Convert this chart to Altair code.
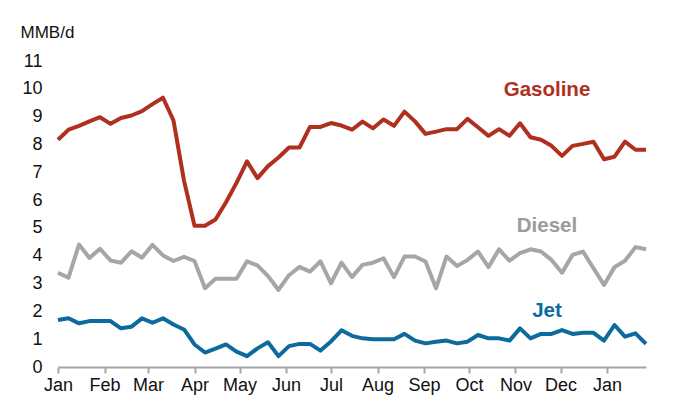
import altair as alt
import pandas as pd

# Weekly product supplied, MMB/d (Jan of year 1 through late Jan of year 2)
week_start = "2020-01-01"
n_weeks = 57

gasoline = [8.17, 8.53, 8.67, 8.83, 8.98, 8.74, 8.95, 9.04, 9.20, 9.45,
            9.68, 8.86, 6.70, 5.08, 5.08, 5.30, 5.92, 6.62, 7.39, 6.79,
            7.22, 7.53, 7.89, 7.89, 8.63, 8.63, 8.77, 8.68, 8.53, 8.82,
            8.58, 8.90, 8.67, 9.18, 8.83, 8.38, 8.46, 8.55, 8.55, 8.92,
            8.62, 8.31, 8.55, 8.31, 8.76, 8.26, 8.17, 7.95, 7.59, 7.95,
            8.02, 8.10, 7.47, 7.56, 8.10, 7.81, 7.81]

diesel = [3.39, 3.21, 4.40, 3.92, 4.25, 3.83, 3.75, 4.16, 3.93, 4.39,
          4.01, 3.81, 3.96, 3.81, 2.83, 3.17, 3.17, 3.17, 3.80, 3.65,
          3.27, 2.77, 3.30, 3.60, 3.43, 3.80, 3.01, 3.75, 3.23, 3.67,
          3.75, 3.91, 3.23, 3.97, 3.97, 3.79, 2.83, 3.97, 3.63, 3.85,
          4.15, 3.59, 4.23, 3.82, 4.09, 4.23, 4.15, 3.85, 3.39, 4.03,
          4.15, 3.55, 2.95, 3.59, 3.82, 4.31, 4.23]

jet = [1.69, 1.75, 1.57, 1.65, 1.65, 1.65, 1.39, 1.45, 1.75, 1.59,
       1.75, 1.53, 1.35, 0.81, 0.52, 0.66, 0.81, 0.55, 0.39, 0.67,
       0.89, 0.39, 0.75, 0.83, 0.83, 0.59, 0.92, 1.32, 1.12, 1.03,
       1.00, 1.00, 1.00, 1.19, 0.95, 0.85, 0.91, 0.95, 0.85, 0.91,
       1.15, 1.03, 1.03, 0.95, 1.39, 1.03, 1.19, 1.19, 1.33, 1.19,
       1.23, 1.23, 0.95, 1.51, 1.09, 1.21, 0.83]

series_names = ["Gasoline", "Diesel", "Jet"]
series_colors = ["#b0301f", "#a6a6a6", "#0c6b9c"]
label_colors = ["#b0301f", "#9c9c9c", "#0c6b9c"]

# Series label annotations (anchor date, value)
label_dates = ["2020-11-22", "2020-11-22", "2020-11-22"]
label_values = [9.75, 4.86, 1.80]

y_ticks = list(range(0, 12))
month_ticks = [alt.DateTime(year=2020 + (m // 12), month=(m % 12) + 1, date=1) for m in range(13)]

dates = pd.date_range(week_start, periods=n_weeks, freq="7D")
rows = []
for name, vals in zip(series_names, [gasoline, diesel, jet]):
    for d, v in zip(dates, vals):
        rows.append({"date": d, "value": v, "series": name})
df = pd.DataFrame(rows)

labels_df = pd.DataFrame({
    "date": pd.to_datetime(label_dates),
    "value": label_values,
    "series": series_names,
})

FONT = "Liberation Sans"

x_enc = alt.X(
    "date:T",
    scale=alt.Scale(domain=[alt.DateTime(year=2020, month=1, date=1),
                            alt.DateTime(year=2021, month=1, date=27)]),
    axis=alt.Axis(
        title=None, values=month_ticks, format="%b", labelFlush=False,
        labelOverlap=False, grid=False, domainColor="#a6a6a6", domainWidth=2,
        tickColor="#a6a6a6", tickWidth=2, tickSize=6,
        labelFontSize=18, labelPadding=3, labelColor="#111111", labelFont=FONT,
    ),
)
y_enc = alt.Y(
    "value:Q",
    scale=alt.Scale(domain=[0, 11], nice=False),
    axis=alt.Axis(
        title="MMB/d", titleAngle=0, titleAlign="left", titleBaseline="alphabetic",
        titleX=-38, titleY=-24, titleFontSize=17, titleFontWeight="normal",
        titleFont=FONT, titleColor="#111111",
        values=y_ticks, grid=False, domain=False, ticks=False, tickSize=0,
        labelOverlap=False, labelFontSize=18, labelPadding=16,
        labelColor="#111111", labelFont=FONT,
    ),
)

lines = alt.Chart(df).mark_line(strokeWidth=4, strokeJoin="round").encode(
    x=x_enc,
    y=y_enc,
    color=alt.Color("series:N", scale=alt.Scale(domain=series_names, range=series_colors), legend=None),
    detail="series:N",
)

texts = alt.Chart(labels_df).mark_text(
    font=FONT, fontSize=20.5, fontWeight="bold", align="center", baseline="alphabetic"
).encode(
    x=x_enc,
    y=y_enc,
    text="series:N",
    color=alt.Color("series:N", scale=alt.Scale(domain=series_names, range=label_colors), legend=None),
)

chart = alt.layer(lines, texts).resolve_scale(color="independent").properties(
    width=588, height=306,
    autosize=alt.AutoSizeParams(type="none"),
    padding={"left": 50, "top": 53, "right": 22, "bottom": 30},
    background="white",
).configure_view(stroke=None)

chart.save("out.html", embed_options={"renderer": "svg", "actions": False})
